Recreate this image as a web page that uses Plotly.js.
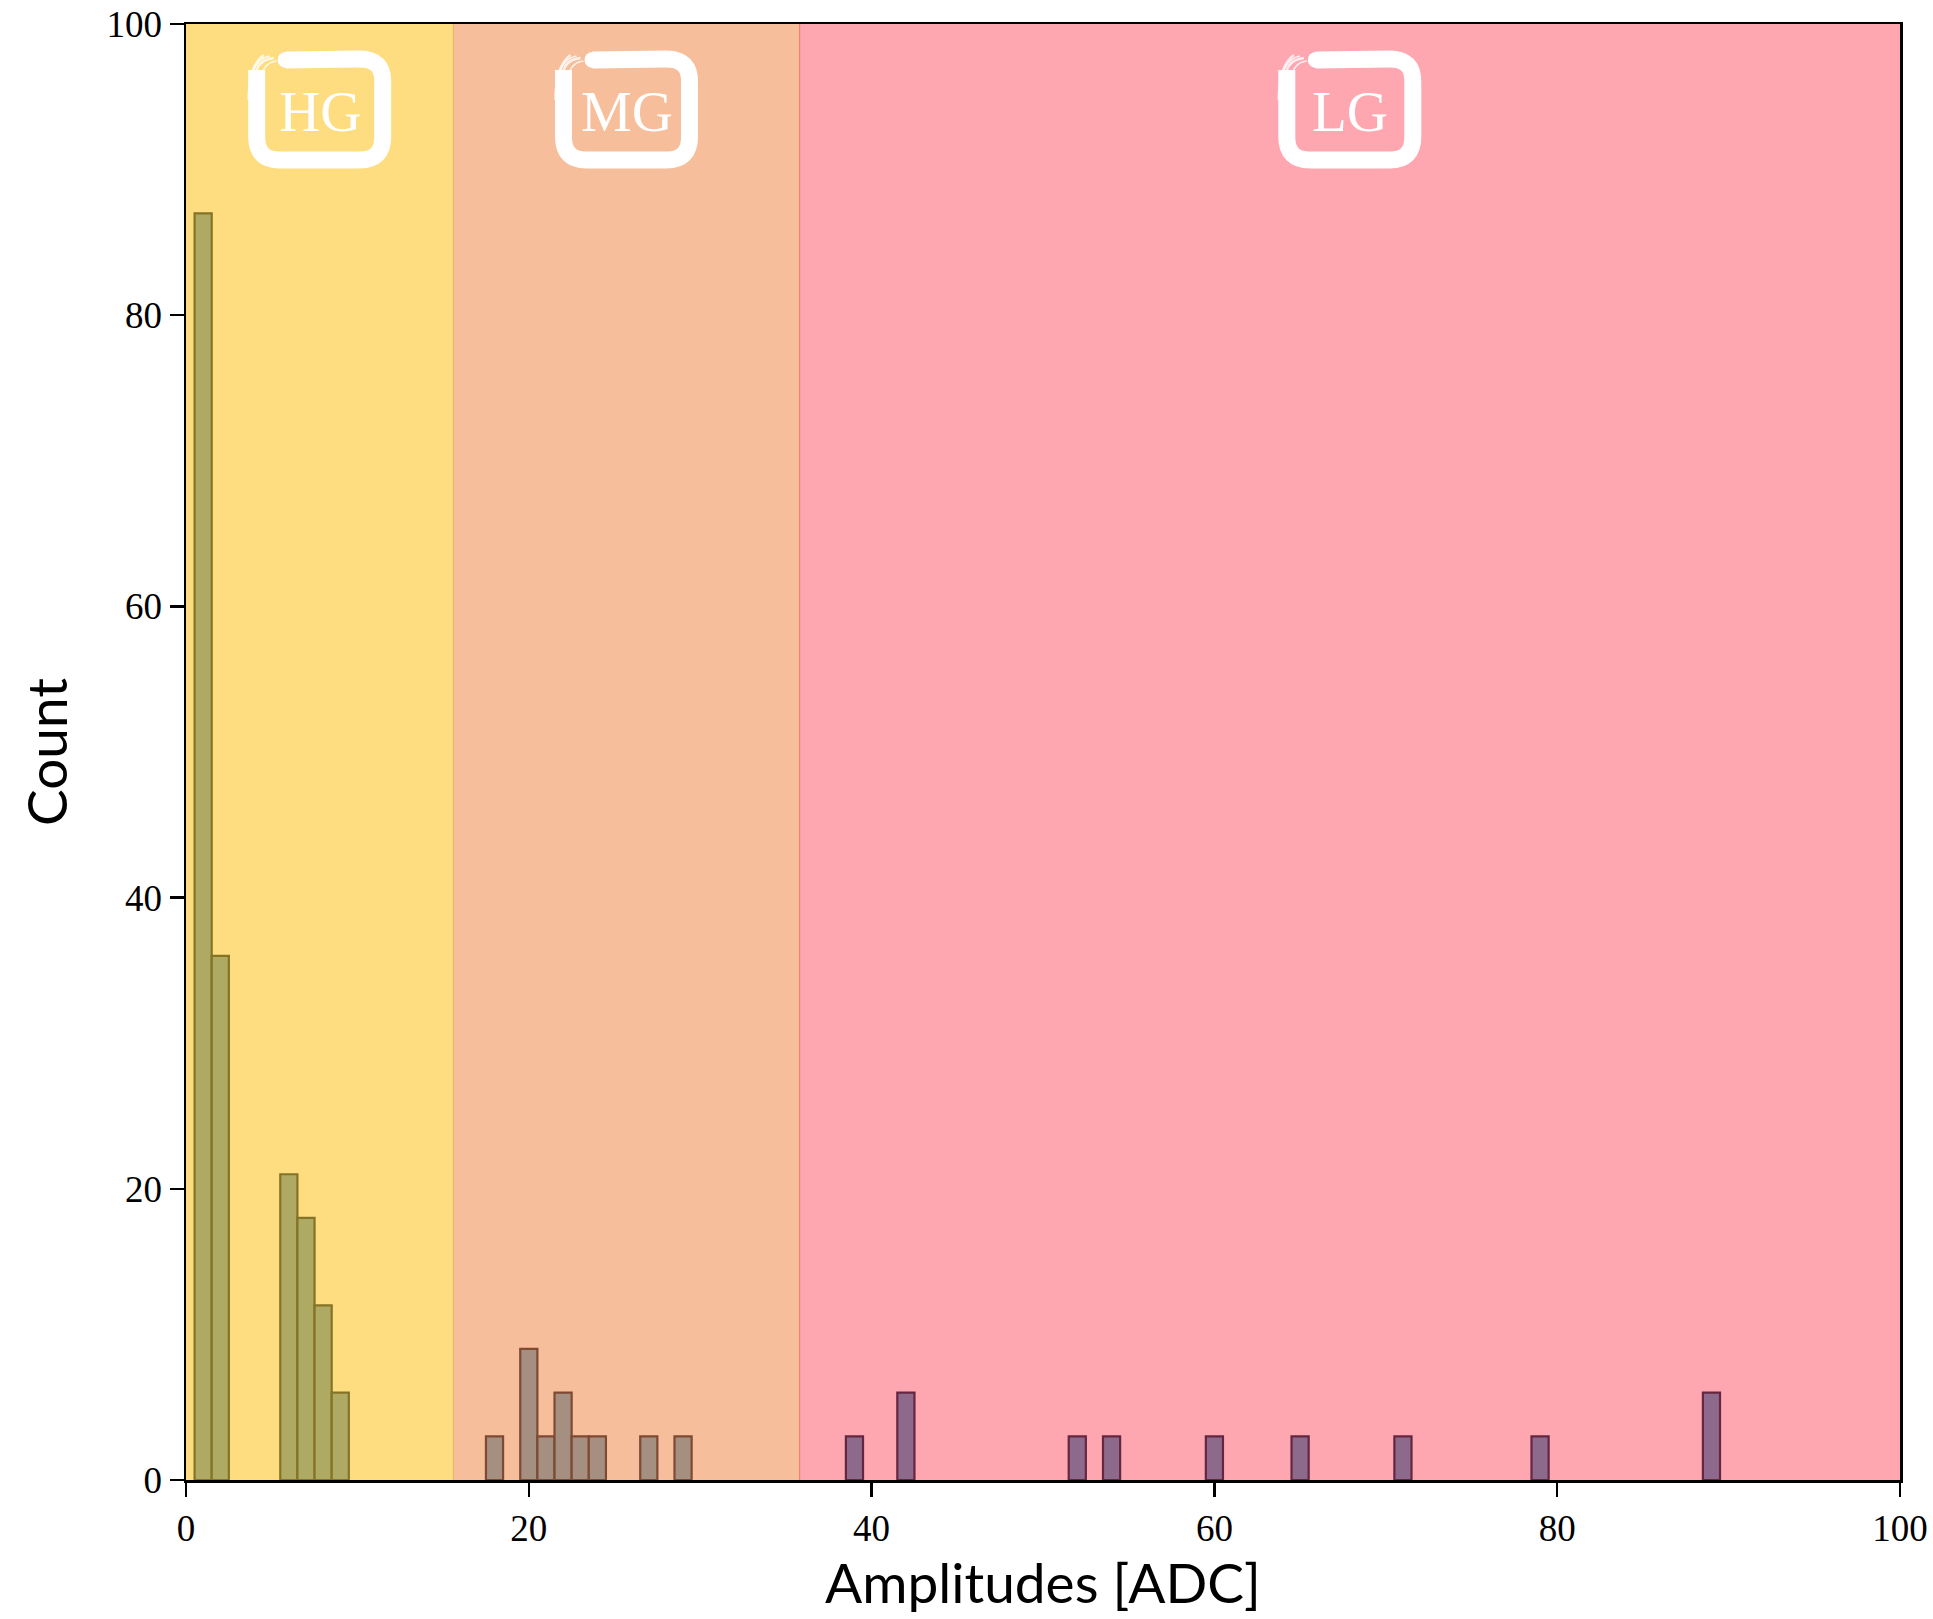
<!DOCTYPE html>
<html>
<head>
<meta charset="utf-8">
<script src="https://cdn.plot.ly/plotly-3.0.1.min.js"></script>
<style>
  html, body { margin: 0; padding: 0; background: #ffffff; }
  #chart { width: 1933px; height: 1619px; }
</style>
</head>
<body>
<div id="chart"></div>
<script>
// ---- Data ----
const hgCenters = [1, 2, 6, 7, 8, 9];
const hgCounts  = [87, 36, 21, 18, 12, 6];
const mgCenters = [18, 20, 21, 22, 23, 24, 27, 29];
const mgCounts  = [3, 9, 3, 6, 3, 3, 3, 3];
const lgCenters = [39, 42, 52, 54, 60, 65, 71, 79, 89];
const lgCounts  = [3, 6, 3, 3, 3, 3, 3, 3, 6];
const binWidth = 1;

const regionNames = ["HG", "MG", "LG"];
const regionEdges = [0, 15.6, 35.8, 100];

const xTicks = [0, 20, 40, 60, 80, 100];
const yTicks = [0, 20, 40, 60, 80, 100];

// ---- Styles ----
const regionFill = ["#FEDC80", "#F6BE9A", "#FFA7B0"];
const regionEdgeLine = ["#E9B868", "#F2826E"];
const barFill = ["#AEAA63", "#A48F80", "#8D6A8B"];
const barLine = ["#857326", "#7F4A33", "#652642"];

function barTrace(xs, ys, i) {
  return {
    type: "bar",
    x: xs,
    y: ys,
    width: xs.map(() => binWidth),
    marker: { color: barFill[i], line: { color: barLine[i], width: 2.2 } },
    hoverinfo: "x+y",
    showlegend: false
  };
}

const traces = [
  barTrace(hgCenters, hgCounts, 0),
  barTrace(mgCenters, mgCounts, 1),
  barTrace(lgCenters, lgCounts, 2)
];

const shapes = [];
const annotations = [];

// background regions
for (let i = 0; i < regionNames.length; i++) {
  shapes.push({
    type: "rect", layer: "below",
    xref: "x", yref: "paper",
    x0: regionEdges[i], x1: regionEdges[i + 1], y0: 0, y1: 1,
    fillcolor: regionFill[i], line: { width: 0 }
  });
}
// region boundaries
for (let i = 1; i < regionEdges.length - 1; i++) {
  shapes.push({
    type: "line", layer: "below",
    xref: "x", yref: "paper",
    x0: regionEdges[i], x1: regionEdges[i], y0: 0, y1: 1,
    line: { color: regionEdgeLine[i - 1], width: 1.2 }
  });
}

// brush-style label boxes (pixel paths anchored at region centers)
const labelY = 94.1;
const mainStroke = "M -34 50 L 40 51 Q 64 51 63 27 L 63 -27 Q 63 -50 40 -50 L -40 -50 Q -63 -50 -63 -27 L -63 40";
const wisps = [
  "M -69 20 Q -69 50 -50 54",
  "M -64 34 Q -63 50 -46 52",
  "M -58 30 Q -58 47 -43 49",
  "M -71 10 Q -71 44 -56 55"
];
for (let i = 0; i < regionNames.length; i++) {
  const cx = (regionEdges[i] + regionEdges[i + 1]) / 2;
  shapes.push({
    type: "path", layer: "above",
    xref: "x", yref: "y",
    xsizemode: "pixel", ysizemode: "pixel",
    xanchor: cx, yanchor: labelY,
    path: mainStroke,
    line: { color: "#FFFFFF", width: 17 }
  });
  // rounded start of the top stroke
  shapes.push({
    type: "circle", layer: "above",
    xref: "x", yref: "y",
    xsizemode: "pixel", ysizemode: "pixel",
    xanchor: cx, yanchor: labelY,
    x0: -42, x1: -26, y0: 42, y1: 58,
    fillcolor: "#FFFFFF", line: { width: 0 }
  });
  wisps.forEach((w, k) => {
    shapes.push({
      type: "path", layer: "above",
      xref: "x", yref: "y",
      xsizemode: "pixel", ysizemode: "pixel",
      xanchor: cx, yanchor: labelY,
      path: w,
      line: { color: "rgba(255,255,255,0.8)", width: 1.5 + (k % 2) }
    });
  });
  annotations.push({
    xref: "x", yref: "y",
    x: cx, y: labelY,
    text: regionNames[i],
    showarrow: false,
    xanchor: "center", yanchor: "middle",
    yshift: -2,
    font: { family: "Liberation Serif, serif", size: 57, color: "#FFFFFF" }
  });
}

const axisCommon = {
  showgrid: false,
  zeroline: false,
  showline: true,
  linecolor: "#000000",
  linewidth: 2.5,
  mirror: true,
  ticks: "outside",
  ticklen: 14,
  tickwidth: 2.5,
  tickcolor: "#000000",
  tickfont: { family: "Liberation Serif, serif", size: 37, color: "#000000" },
  range: [0, 100],
  tickmode: "array"
};

const layout = {
  width: 1933,
  height: 1619,
  margin: { l: 186, r: 33, t: 24, b: 139 },
  paper_bgcolor: "#FFFFFF",
  plot_bgcolor: "#FFFFFF",
  barmode: "overlay",
  showlegend: false,
  xaxis: Object.assign({}, axisCommon, {
    tickvals: xTicks,
    ticktext: xTicks.map(String),
    title: { text: "Amplitudes [ADC]", font: { family: "Lato, sans-serif", size: 55, color: "#000000" }, standoff: 12 }
  }),
  yaxis: Object.assign({}, axisCommon, {
    tickvals: yTicks,
    ticktext: yTicks.map(String),
    title: { text: "Count", font: { family: "Lato, sans-serif", size: 55, color: "#000000" }, standoff: 22 }
  }),
  shapes: shapes,
  annotations: annotations
};

Plotly.newPlot("chart", traces, layout, { staticPlot: true, displayModeBar: false });
</script>
</body>
</html>
